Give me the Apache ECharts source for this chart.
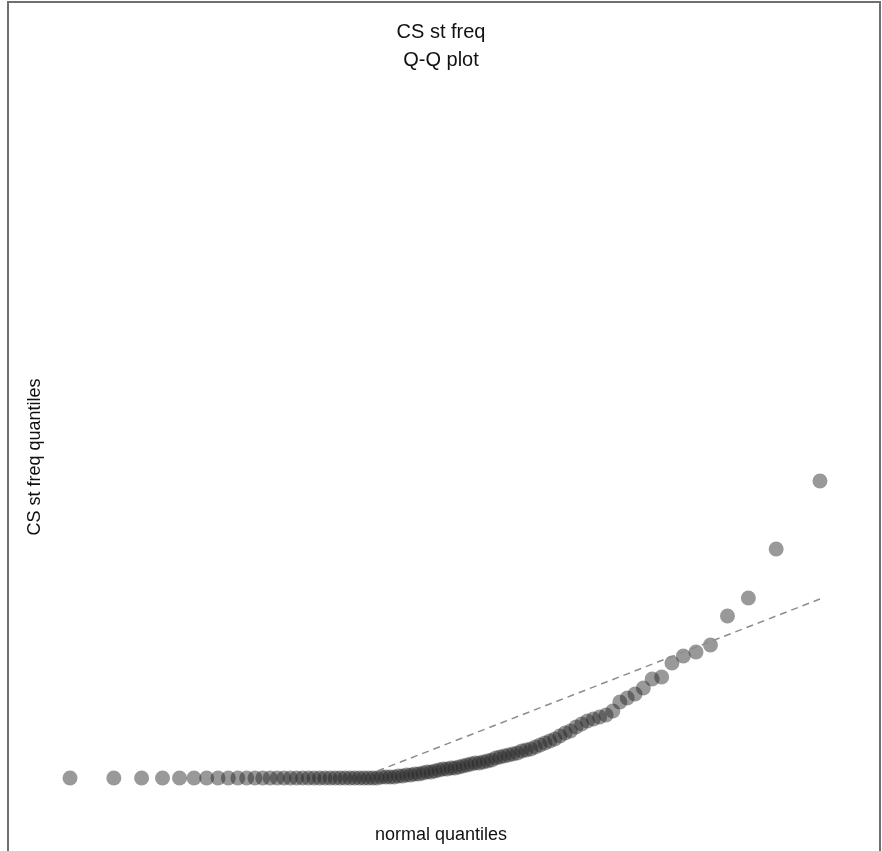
<!DOCTYPE html>
<html>
<head>
<meta charset="utf-8">
<title>CS st freq Q-Q plot</title>
<script src="https://cdn.jsdelivr.net/npm/echarts@6/dist/echarts.min.js"></script>
<style>
  html, body { margin: 0; padding: 0; background: #ffffff; }
  #chart { width: 882px; height: 851px; }
</style>
</head>
<body>
<div id="chart"></div>
<script>
// Sorted sample values of CS st freq (100 observations, ascending)
const sampleValues = [
  0, 0, 0, 0, 0, 0, 0, 0, 0, 0,
  0, 0, 0, 0, 0, 0, 0, 0, 0, 0,
  0, 0, 0, 0, 0, 0, 0, 0, 0, 0,
  0, 0, 0, 0,
  0.01, 0.01, 0.01, 0.01, 0.02, 0.02, 0.03, 0.03, 0.04, 0.04,
  0.05, 0.06, 0.06, 0.07, 0.08, 0.09,
  0.09, 0.10, 0.10, 0.11, 0.12, 0.13, 0.14, 0.15, 0.15, 0.16,
  0.17, 0.18, 0.20, 0.21, 0.22, 0.23, 0.24, 0.25, 0.27, 0.28,
  0.29, 0.31, 0.33, 0.35, 0.37, 0.39, 0.42, 0.45, 0.47, 0.51,
  0.54, 0.57, 0.59, 0.61, 0.63, 0.67, 0.76, 0.80, 0.84, 0.90,
  0.99, 1.01, 1.15, 1.22, 1.26, 1.33, 1.62, 1.80, 2.29, 2.97
];

// Reference line (dashed), in data units: normal quantile -> CS st freq
const refLineX = [-0.42, 2.33];
const refLineY = [0.07, 1.79];

const titleLines = ['CS st freq', 'Q-Q plot'];
const xAxisLabel = 'normal quantiles';
const yAxisLabel = 'CS st freq quantiles';

// Inverse standard normal CDF (Acklam's rational approximation)
function qnorm(p) {
  const a = [-3.969683028665376e+01, 2.209460984245205e+02, -2.759285104469687e+02,
             1.383577518672690e+02, -3.066479806614716e+01, 2.506628277459239e+00];
  const b = [-5.447609879822406e+01, 1.615858368580409e+02, -1.556989798598866e+02,
             6.680131188771972e+01, -1.328068155288572e+01];
  const c = [-7.784894002430293e-03, -3.223964580411365e-01, -2.400758277161838e+00,
             -2.549732539343734e+00, 4.374664141464968e+00, 2.938163982698783e+00];
  const d = [7.784695709041462e-03, 3.224671290700398e-01, 2.445134137142996e+00,
             3.754408661907416e+00];
  const pLow = 0.02425, pHigh = 1 - pLow;
  let q, r;
  if (p < pLow) {
    q = Math.sqrt(-2 * Math.log(p));
    return (((((c[0]*q + c[1])*q + c[2])*q + c[3])*q + c[4])*q + c[5]) /
           ((((d[0]*q + d[1])*q + d[2])*q + d[3])*q + 1);
  }
  if (p <= pHigh) {
    q = p - 0.5; r = q * q;
    return (((((a[0]*r + a[1])*r + a[2])*r + a[3])*r + a[4])*r + a[5]) * q /
           (((((b[0]*r + b[1])*r + b[2])*r + b[3])*r + b[4])*r + 1);
  }
  q = Math.sqrt(-2 * Math.log(1 - p));
  return -(((((c[0]*q + c[1])*q + c[2])*q + c[3])*q + c[4])*q + c[5]) /
          ((((d[0]*q + d[1])*q + d[2])*q + d[3])*q + 1);
}

// Pair each sorted value with its theoretical normal quantile, p = i/(n+1)
const n = sampleValues.length;
const qqPoints = sampleValues.map((v, i) => [qnorm((i + 1) / (n + 1)), v]);
const refLine = refLineX.map((x, i) => [x, refLineY[i]]);

const FONT = "'Liberation Sans', Arial, Helvetica, sans-serif";

const chart = echarts.init(document.getElementById('chart'), null, { renderer: 'canvas' });

chart.setOption({
  backgroundColor: '#ffffff',
  animation: false,
  title: {
    text: titleLines.join('\n'),
    left: 'center',
    top: 13,
    textStyle: { fontFamily: FONT, fontSize: 20, fontWeight: 'normal', color: '#111', lineHeight: 28 }
  },
  grid: { left: 10.5, width: 869, top: 28, height: 800 },
  xAxis: {
    type: 'value', min: -2.7, max: 2.7,
    axisLine: { show: false }, axisTick: { show: false },
    axisLabel: { show: false }, splitLine: { show: false }
  },
  yAxis: {
    type: 'value', min: -0.5, max: 7.5,
    axisLine: { show: false }, axisTick: { show: false },
    axisLabel: { show: false }, splitLine: { show: false }
  },
  graphic: [
    {
      type: 'rect', z: 100, silent: true,
      shape: { x: 8, y: 2, width: 872, height: 880 },
      style: { fill: 'none', stroke: '#6f6f6f', lineWidth: 2 }
    },
    {
      type: 'text', left: 'center', top: 826,
      style: { text: xAxisLabel, font: '18px ' + FONT, fill: '#111' }
    },
    {
      type: 'text', x: 35, y: 457, rotation: Math.PI / 2,
      style: { text: yAxisLabel, font: '18px ' + FONT, fill: '#111', align: 'center', verticalAlign: 'middle' }
    }
  ],
  series: [
    {
      type: 'line',
      data: refLine,
      showSymbol: false,
      silent: true,
      lineStyle: { color: '#8c8c8c', width: 1.5, type: [7, 5] },
      z: 3
    },
    {
      type: 'scatter',
      data: qqPoints,
      symbol: 'circle',
      symbolSize: 15,
      itemStyle: { color: 'rgba(35,35,35,0.58)' },
      z: 2
    }
  ]
});
</script>
</body>
</html>
